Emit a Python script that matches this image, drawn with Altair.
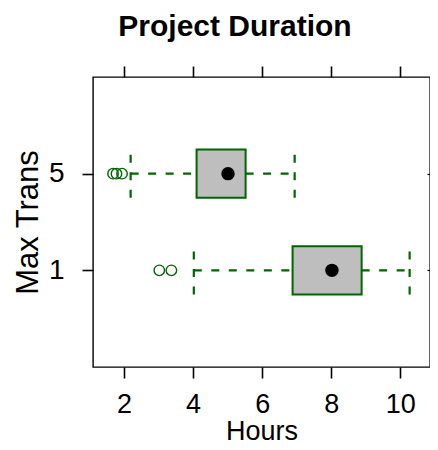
import altair as alt
import pandas as pd

# ---- data ----
categories = ["1", "5"]            # Max Trans levels (bottom to top)
q1 = [6.88, 4.10]
medians = [8.02, 5.01]
q3 = [8.88, 5.52]
whisker_low = [4.02, 2.19]
whisker_high = [10.27, 6.94]
outlier_group = ["1", "1", "5", "5", "5"]
outlier_values = [3.02, 3.37, 1.68, 1.78, 1.94]
x_ticks = [2, 4, 6, 8, 10]

# ---- tables ----
pos = {c: i + 1 for i, c in enumerate(categories)}
stats = pd.DataFrame({
    "trans": categories,
    "pos": [pos[c] for c in categories],
    "q1": q1, "median": medians, "q3": q3,
    "wlo": whisker_low, "whi": whisker_high,
})
outl = pd.DataFrame({
    "trans": outlier_group,
    "pos": [pos[c] for c in outlier_group],
    "hours": outlier_values,
})

GREEN = "#006400"
FONT = "Liberation Sans"
HALF = 0.25
DASH = [8, 9.5]

xscale = alt.Scale(domain=[1.1, 10.86], nice=False, zero=False)
yscale = alt.Scale(domain=[0, len(categories) + 1], nice=False, zero=False)

label_expr = " : ".join(
    [f"datum.value == {pos[c]} ? '{c}'" for c in categories]) + " : ''"

x_axis_bottom = alt.Axis(
    title="Hours", values=x_ticks, orient="bottom", domain=False, grid=False,
    tickSize=11, tickWidth=1.6, tickColor="black",
    labelFont=FONT, labelFontSize=27, labelColor="black", labelPadding=13,
    labelFlush=False,
    titleFont=FONT, titleFontSize=27, titleFontWeight="normal", titleColor="black",
    titleY=72, titleBaseline="alphabetic",
)
x_axis_top = alt.Axis(
    title=None, values=x_ticks, orient="top", domain=False, grid=False,
    labels=False, tickSize=11, tickWidth=1.6, tickColor="black",
)
y_axis_left = alt.Axis(
    title="Max Trans", values=[pos[c] for c in categories], orient="left",
    labelExpr=label_expr, domain=False, grid=False,
    tickSize=11, tickWidth=1.6, tickColor="black",
    labelFont=FONT, labelFontSize=28, labelColor="black", labelPadding=18,
    labelBaseline="middle",
    titleFont=FONT, titleFontSize=31, titleFontWeight="normal", titleColor="black",
    titleAngle=270, titleX=-56, titleY=145, titleAlign="center",
    titleBaseline="alphabetic",
)
y_axis_right = alt.Axis(
    title=None, values=[pos[c] for c in categories], orient="right",
    labels=False, domain=False, grid=False, offset=-3,
    tickSize=3, tickWidth=1.2, tickColor="black",
)

base = alt.Chart(stats).transform_calculate(
    lo=f"datum.pos - {HALF}", hi=f"datum.pos + {HALF}"
)

whisk_lo = base.mark_rule(color=GREEN, strokeWidth=2.2, strokeDash=DASH).encode(
    x=alt.X("wlo:Q", scale=xscale, axis=x_axis_top),
    x2="q1:Q",
    y=alt.Y("pos:Q", scale=yscale, axis=y_axis_right),
)
whisk_hi = base.mark_rule(color=GREEN, strokeWidth=2.2, strokeDash=DASH).encode(
    x=alt.X("q3:Q", scale=xscale, axis=None),
    x2="whi:Q",
    y=alt.Y("pos:Q", scale=yscale, axis=None),
)
cap_lo = base.mark_rule(color=GREEN, strokeWidth=2.2, strokeDash=DASH).encode(
    x=alt.X("wlo:Q", scale=xscale, axis=None),
    y=alt.Y("lo:Q", scale=yscale, axis=None),
    y2="hi:Q",
)
cap_hi = base.mark_rule(color=GREEN, strokeWidth=2.2, strokeDash=DASH).encode(
    x=alt.X("whi:Q", scale=xscale, axis=None),
    y=alt.Y("lo:Q", scale=yscale, axis=None),
    y2="hi:Q",
)
box = base.mark_rect(fill="#BEBEBE", stroke=GREEN, strokeWidth=2).encode(
    x=alt.X("q1:Q", scale=xscale, axis=x_axis_bottom),
    x2="q3:Q",
    y=alt.Y("lo:Q", scale=yscale, axis=y_axis_left),
    y2="hi:Q",
)
med = base.mark_circle(color="black", size=180, opacity=1).encode(
    x=alt.X("median:Q", scale=xscale, axis=None),
    y=alt.Y("pos:Q", scale=yscale, axis=None),
)
out = alt.Chart(outl).mark_point(
    shape="circle", filled=False, stroke=GREEN, strokeWidth=1.4, size=110, opacity=1
).encode(
    x=alt.X("hours:Q", scale=xscale, axis=None),
    y=alt.Y("pos:Q", scale=yscale, axis=None),
)

chart = alt.layer(
    whisk_lo, whisk_hi, cap_lo, cap_hi, box, med, out
).resolve_axis(
    x="independent", y="independent"
).properties(
    width=337, height=290,
    autosize=alt.AutoSizeParams(type="none"),
    padding={"left": 85, "top": 69, "right": 0, "bottom": 75},
    title=alt.Title(
        "Project Duration", font=FONT, fontSize=30, fontWeight="bold",
        color="black", anchor="middle", frame="group", dx=-26.5, dy=3,
        baseline="alphabetic", offset=2,
    ),
).configure(
    background="white"
).configure_view(
    stroke="black", strokeWidth=1.4
)

chart.save("out.html", embed_options={"renderer": "svg", "actions": False})
